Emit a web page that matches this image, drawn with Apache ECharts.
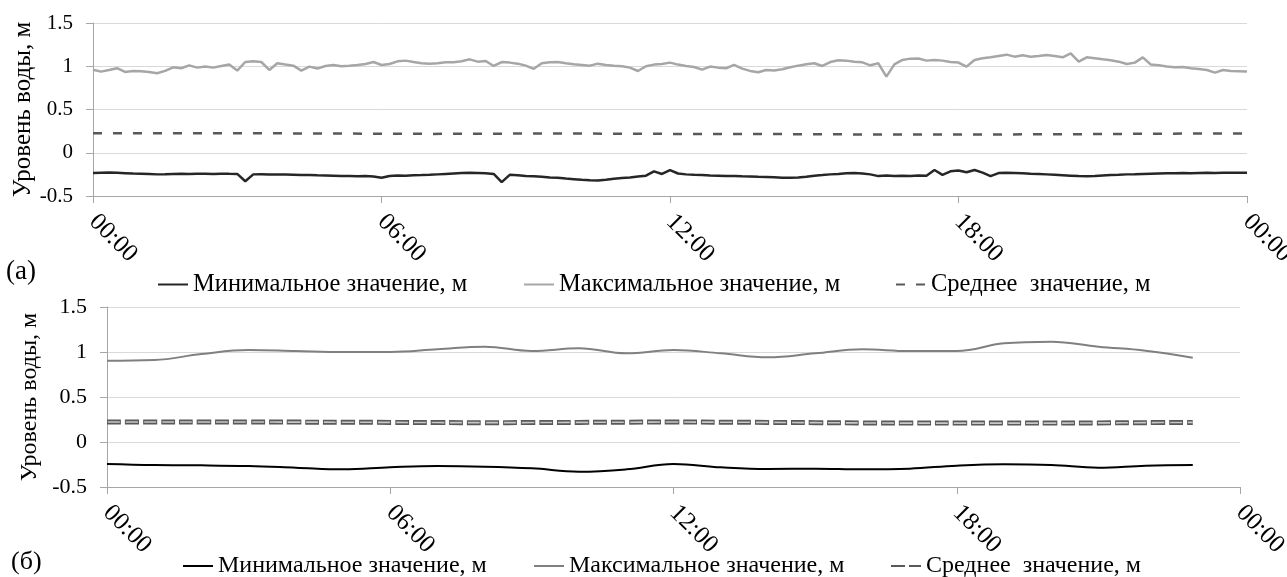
<!DOCTYPE html>
<html><head><meta charset="utf-8">
<script src="https://cdn.jsdelivr.net/npm/echarts@6.0.0/dist/echarts.min.js"></script>
<style>html,body{margin:0;padding:0;background:#fff}#c{width:1287px;height:577px}</style>
</head><body><div id="c"></div>
<script>
// ---- tick labels ----
const timeTickLabels = ['00:00', '06:00', '12:00', '18:00', '00:00'];
const yAxisTitle = 'Уровень воды, м';
const seriesNames = ['Минимальное значение, м', 'Максимальное значение, м', 'Среднее  значение, м'];

// ---- (a): 10-minute samples over 24 h ----
const stepA = 1 / 6; // hours between samples
const minA = [
  -0.235,-0.230,-0.228,-0.232,-0.236,-0.240,
  -0.242,-0.245,-0.250,-0.248,-0.245,-0.244,
  -0.246,-0.244,-0.243,-0.245,-0.242,-0.244,
  -0.245,-0.330,-0.250,-0.248,-0.252,-0.250,
  -0.252,-0.255,-0.258,-0.256,-0.260,-0.262,
  -0.265,-0.268,-0.270,-0.272,-0.270,-0.274,
  -0.290,-0.268,-0.262,-0.265,-0.260,-0.258,
  -0.255,-0.250,-0.245,-0.240,-0.235,-0.232,
  -0.235,-0.238,-0.245,-0.340,-0.255,-0.260,
  -0.268,-0.272,-0.278,-0.285,-0.290,-0.298,
  -0.305,-0.312,-0.318,-0.320,-0.312,-0.300,
  -0.292,-0.285,-0.275,-0.265,-0.215,-0.245,
  -0.200,-0.240,-0.250,-0.255,-0.258,-0.262,
  -0.265,-0.270,-0.268,-0.272,-0.275,-0.278,
  -0.280,-0.282,-0.288,-0.290,-0.285,-0.278,
  -0.265,-0.258,-0.250,-0.245,-0.238,-0.235,
  -0.240,-0.250,-0.270,-0.262,-0.268,-0.265,
  -0.268,-0.262,-0.265,-0.200,-0.255,-0.215,
  -0.205,-0.225,-0.200,-0.230,-0.270,-0.235,
  -0.232,-0.235,-0.238,-0.242,-0.245,-0.250,
  -0.255,-0.260,-0.265,-0.270,-0.272,-0.268,
  -0.262,-0.258,-0.255,-0.250,-0.248,-0.245,
  -0.242,-0.240,-0.238,-0.236,-0.235,-0.236,
  -0.234,-0.232,-0.233,-0.230,-0.232,-0.230,
  -0.230
];
const maxA = [
  0.960,0.938,0.957,0.977,0.934,0.946,
  0.942,0.934,0.919,0.946,0.988,0.977,
  1.010,0.984,0.996,0.984,1.003,1.019,
  0.950,1.049,1.057,1.049,0.957,1.034,
  1.019,1.007,0.950,0.996,0.973,1.003,
  1.015,1.000,1.007,1.015,1.026,1.049,
  1.015,1.026,1.057,1.065,1.049,1.034,
  1.030,1.034,1.045,1.045,1.057,1.080,
  1.053,1.061,1.003,1.049,1.042,1.030,
  1.007,0.970,1.034,1.045,1.049,1.034,
  1.022,1.015,1.007,1.030,1.015,1.007,
  1.000,0.984,0.945,1.000,1.019,1.026,
  1.042,1.019,1.003,0.992,0.961,0.996,
  0.984,0.977,1.015,0.973,0.946,0.930,
  0.957,0.950,0.965,0.988,1.007,1.022,
  1.034,1.003,1.049,1.069,1.065,1.053,
  1.045,1.011,1.034,0.880,1.022,1.073,
  1.088,1.090,1.065,1.073,1.065,1.049,
  1.042,0.996,1.073,1.092,1.103,1.119,
  1.134,1.111,1.126,1.111,1.119,1.130,
  1.119,1.103,1.149,1.053,1.103,1.092,
  1.080,1.069,1.053,1.026,1.042,1.103,
  1.019,1.011,0.996,0.988,0.992,0.977,
  0.969,0.957,0.927,0.957,0.946,0.942,
  0.938
];
// hourly mean for (a)
const stepMeanA = 1;
const meanA = [0.225,0.225,0.225,0.224,0.224,0.222,0.220,0.218,0.220,0.222,0.222,0.220,0.218,
               0.218,0.216,0.214,0.212,0.210,0.210,0.212,0.214,0.216,0.220,0.222,0.224];

// ---- (б): hourly values 00:00 .. 23:00 ----
const stepB = 1;
const minB = [-0.244,-0.256,-0.259,-0.267,-0.285,-0.304,-0.281,-0.267,-0.274,-0.293,-0.330,-0.304,
              -0.244,-0.281,-0.300,-0.296,-0.304,-0.296,-0.263,-0.248,-0.256,-0.285,-0.263,-0.256];
const maxB = [0.903,0.911,0.977,1.022,1.011,1.000,1.000,1.030,1.059,1.011,1.041,0.985,
              1.022,0.985,0.941,0.985,1.030,1.011,1.011,1.096,1.115,1.059,1.015,0.937];
const meanB = [0.222,0.222,0.222,0.222,0.221,0.220,0.218,0.216,0.215,0.216,0.218,0.220,
               0.222,0.220,0.218,0.215,0.212,0.210,0.210,0.210,0.210,0.212,0.215,0.218];

function pairs(arr, step) { return arr.map((v, i) => [i * step, v]); }

const FF = "'Liberation Serif', 'Times New Roman', serif";
const AX = '#a6a6a6';

function xAxisCfg(g, fs) {
  return {
    type: 'value', gridIndex: g, min: 0, max: 24, interval: 6,
    axisLine: { show: true, onZero: false, lineStyle: { color: AX, width: 1 } },
    axisTick: { show: true, length: 7, lineStyle: { color: AX } },
    splitLine: { show: false },
    axisLabel: { rotate: -45, margin: 22, fontSize: fs, color: '#000', fontFamily: FF,
      showMinLabel: true, showMaxLabel: true, hideOverlap: false,
      formatter: v => timeTickLabels[Math.round(v / 6)] }
  };
}
function yAxisCfg(g, fs, nfs, gap) {
  return {
    type: 'value', gridIndex: g, min: -0.5, max: 1.5, interval: 0.5,
    name: yAxisTitle, nameLocation: 'middle', nameGap: gap, nameMoveOverlap: false,
    nameTextStyle: { fontSize: nfs, fontFamily: FF, color: '#000' },
    axisLine: { show: true, onZero: false, lineStyle: { color: AX } },
    axisTick: { show: true, length: 7, lineStyle: { color: AX } },
    splitLine: { show: true, lineStyle: { color: '#d9d9d9', width: 1 } },
    axisLabel: { fontSize: fs, margin: 20, color: '#000', fontFamily: FF }
  };
}
function legendCfg(name, left, top, fs, fmt) {
  return {
    data: [name], left: left, top: top, itemWidth: 30, itemHeight: 14,
    padding: 0, selectedMode: false,
    itemStyle: { color: 'rgba(0,0,0,0)', borderColor: 'rgba(0,0,0,0)', borderWidth: 0, opacity: 0 },
    textStyle: { fontSize: fs, fontFamily: FF, color: '#000' },
    formatter: fmt
  };
}
const stripB = n => n.replace('б:', '');

const chart = echarts.init(document.getElementById('c'));
chart.setOption({
  animation: false,
  backgroundColor: '#fff',
  grid: [
    { left: 93, right: 40, top: 23, bottom: 381, outerBoundsMode: 'none', containLabel: false },
    { left: 107, right: 47, top: 307, bottom: 90, outerBoundsMode: 'none', containLabel: false }
  ],
  xAxis: [xAxisCfg(0, 25), xAxisCfg(1, 25)],
  yAxis: [yAxisCfg(0, 21, 25, 57), yAxisCfg(1, 22, 24, 65)],
  legend: [
    legendCfg(seriesNames[0], 157, 272, 24.5),
    legendCfg(seriesNames[1], 523, 272, 24.5),
    legendCfg(seriesNames[2], 895, 272, 24.5),
    legendCfg('б:' + seriesNames[0], 182, 554, 24, stripB),
    legendCfg('б:' + seriesNames[1], 533, 554, 24, stripB),
    legendCfg('б:' + seriesNames[2], 890, 554, 24, stripB)
  ],
  graphic: [
    { type: 'text', left: 6, top: 258, style: { text: '(a)', font: "27px 'Liberation Serif'", fill: '#000' } },
    { type: 'text', left: 11, top: 549, style: { text: '(б)', font: "26px 'Liberation Serif'", fill: '#000' } }
  ],
  series: [
    { type: 'line', name: seriesNames[2], xAxisIndex: 0, yAxisIndex: 0, data: pairs(meanA, stepMeanA),
      symbol: 'none', silent: true, lineStyle: { color: '#595959', width: 2.5, type: [9, 11] }, itemStyle: { color: '#595959' } },
    { type: 'line', name: seriesNames[1], xAxisIndex: 0, yAxisIndex: 0, data: pairs(maxA, stepA),
      symbol: 'none', silent: true, lineStyle: { color: '#a6a6a6', width: 2.5 }, itemStyle: { color: '#a6a6a6' } },
    { type: 'line', name: seriesNames[0], xAxisIndex: 0, yAxisIndex: 0, data: pairs(minA, stepA),
      symbol: 'none', silent: true, lineStyle: { color: '#262626', width: 2.5 }, itemStyle: { color: '#262626' } },

    { type: 'line', name: 'б:' + seriesNames[2], xAxisIndex: 1, yAxisIndex: 1, data: pairs(meanB, stepB),
      smooth: 0.4, symbol: 'none', silent: true, lineStyle: { color: '#595959', width: 5, type: [14, 4], cap: 'butt' }, itemStyle: { color: '#595959' } },
    { type: 'line', name: 'б:meanInner', xAxisIndex: 1, yAxisIndex: 1, data: pairs(meanB, stepB),
      smooth: 0.4, symbol: 'none', silent: true, lineStyle: { color: '#c8c8c8', width: 1.6, type: [12, 6], dashOffset: -1, cap: 'butt' }, itemStyle: { color: '#c8c8c8' } },
    { type: 'line', name: 'б:' + seriesNames[1], xAxisIndex: 1, yAxisIndex: 1, data: pairs(maxB, stepB),
      smooth: 0.4, symbol: 'none', silent: true, lineStyle: { color: '#808080', width: 2 }, itemStyle: { color: '#808080' } },
    { type: 'line', name: 'б:' + seriesNames[0], xAxisIndex: 1, yAxisIndex: 1, data: pairs(minB, stepB),
      smooth: 0.4, symbol: 'none', silent: true, lineStyle: { color: '#000000', width: 2 }, itemStyle: { color: '#000000' } }
  ]
});
</script>
</body></html>
